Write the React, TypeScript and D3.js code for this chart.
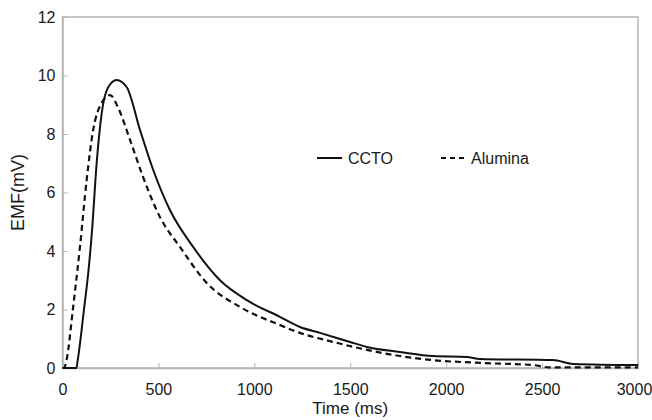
import React, { useRef, useEffect } from "react";
import * as d3 from "d3";

// values
const cctoTime = [0, 72, 80, 112, 135, 154, 178, 204, 238, 282, 335, 404, 473, 560, 681, 821, 961, 1133, 1238, 1342, 1499, 1587, 1759, 1931, 2108, 2176, 2557, 2662, 3000];
const cctoEmf = [0, 0, 0.3, 2.0, 3.3, 4.7, 7.0, 8.7, 9.6, 9.85, 9.6, 8.14, 6.77, 5.4, 4.14, 3.0, 2.32, 1.75, 1.4, 1.2, 0.89, 0.72, 0.55, 0.41, 0.38, 0.31, 0.27, 0.14, 0.1];

const aluminaTime = [0, 8, 22, 54, 91, 126, 160, 204, 248, 290, 352, 420, 508, 612, 753, 925, 1133, 1238, 1412, 1587, 1759, 1931, 2193, 2453, 2540, 3000];
const aluminaEmf = [0, 0, 0.3, 2.0, 4.14, 6.43, 8.14, 9.06, 9.33, 8.9, 7.8, 6.53, 5.16, 4.14, 2.9, 2.09, 1.47, 1.2, 0.89, 0.62, 0.41, 0.27, 0.17, 0.1, 0.02, 0.02];

const xTicks = [0, 500, 1000, 1500, 2000, 2500, 3000];
const yTicks = [0, 2, 4, 6, 8, 10, 12];

const seriesNames = ["CCTO", "Alumina"];

const App = () => {
    const ref = useRef<SVGSVGElement>(null);

    useEffect(() => {
        const svgWidth = 652;
        const svgHeight = 420;
        const margin = { top: 17, right: 14, bottom: 52, left: 62.5 };
        const axisColor = "#b4b4b4";
        const fontColor = "#1a1a1a";
        const font = "'Liberation Sans', Arial, sans-serif";

        const svg = d3.select(ref.current)
            .attr("width", svgWidth)
            .attr("height", svgHeight);
        svg.selectAll("*").remove();

        const xScale = d3.scaleLinear()
            .domain([0, 3000])
            .range([margin.left, svgWidth - margin.right]);

        const yScale = d3.scaleLinear()
            .domain([0, 12])
            .range([svgHeight - margin.bottom, margin.top]);

        // frame (top and right in gray, like the plot area border)
        svg.append("rect")
            .attr("x", xScale(0))
            .attr("y", yScale(12))
            .attr("width", xScale(3000) - xScale(0))
            .attr("height", yScale(0) - yScale(12))
            .attr("fill", "none")
            .attr("stroke", axisColor)
            .attr("stroke-width", 1.5);

        // X axis, ticks inside
        const xAxis = svg.append("g")
            .attr("transform", `translate(0,${yScale(0)})`)
            .call(d3.axisBottom(xScale).tickValues(xTicks).tickFormat(d3.format("d"))
                .tickSizeInner(-5).tickSizeOuter(0).tickPadding(16));
        xAxis.select(".domain").attr("stroke", axisColor).attr("stroke-width", 1.5);
        xAxis.selectAll(".tick line").attr("stroke", axisColor);
        xAxis.selectAll("text")
            .style("font-family", font)
            .style("font-size", "16px")
            .attr("fill", fontColor)
            // last label sits against the right edge
            .attr("dx", (d: any) => (d === 3000 ? -4 : 0));

        // Y axis, ticks inside
        const yAxis = svg.append("g")
            .attr("transform", `translate(${xScale(0)},0)`)
            .call(d3.axisLeft(yScale).tickValues(yTicks).tickFormat(d3.format("d"))
                .tickSizeInner(-5).tickSizeOuter(0).tickPadding(7));
        yAxis.select(".domain").attr("stroke", axisColor).attr("stroke-width", 1.5);
        yAxis.selectAll(".tick line").attr("stroke", axisColor);
        yAxis.selectAll("text")
            .style("font-family", font)
            .style("font-size", "16px")
            .attr("fill", fontColor);

        // axis titles
        svg.append("text")
            .attr("x", (xScale(0) + xScale(3000)) / 2)
            .attr("y", 414)
            .attr("text-anchor", "middle")
            .style("font-family", font)
            .style("font-size", "17px")
            .attr("fill", fontColor)
            .text("Time (ms)");

        svg.append("text")
            .attr("transform", `translate(18,${yScale(6)}) rotate(-90)`)
            .attr("text-anchor", "middle")
            .attr("dy", "0.35em")
            .style("font-family", font)
            .style("font-size", "18px")
            .attr("fill", fontColor)
            .text("EMF(mV)");

        const line = d3.line<[number, number]>()
            .x(d => xScale(d[0]))
            .y(d => yScale(d[1]))
            .curve(d3.curveMonotoneX);

        const cctoData = cctoTime.map((t, i) => [t, cctoEmf[i]] as [number, number]);
        const aluminaData = aluminaTime.map((t, i) => [t, aluminaEmf[i]] as [number, number]);

        svg.append("path")
            .datum(aluminaData)
            .attr("fill", "none")
            .attr("stroke", "#111")
            .attr("stroke-width", 2.2)
            .attr("stroke-dasharray", "6,4")
            .attr("d", line);

        svg.append("path")
            .datum(cctoData)
            .attr("fill", "none")
            .attr("stroke", "#111")
            .attr("stroke-width", 2)
            .attr("d", line);

        // legend
        const legend = svg.append("g").attr("transform", "translate(317,158)");
        legend.append("line")
            .attr("x1", 0).attr("x2", 25).attr("y1", 0).attr("y2", 0)
            .attr("stroke", "#111").attr("stroke-width", 2);
        legend.append("text")
            .attr("x", 31).attr("dy", "0.35em")
            .style("font-family", font).style("font-size", "16px")
            .attr("fill", fontColor)
            .text(seriesNames[0]);
        legend.append("line")
            .attr("x1", 124).attr("x2", 147).attr("y1", 0).attr("y2", 0)
            .attr("stroke", "#111").attr("stroke-width", 2.2)
            .attr("stroke-dasharray", "5,4");
        legend.append("text")
            .attr("x", 154).attr("dy", "0.35em")
            .style("font-family", font).style("font-size", "16px")
            .attr("fill", fontColor)
            .text(seriesNames[1]);
    }, []);

    return (
        <div style={{ position: "absolute", left: 0, top: 0 }}>
            <svg ref={ref} style={{ display: "block", background: "#fff" }}></svg>
        </div>
    );
};

export default App;
